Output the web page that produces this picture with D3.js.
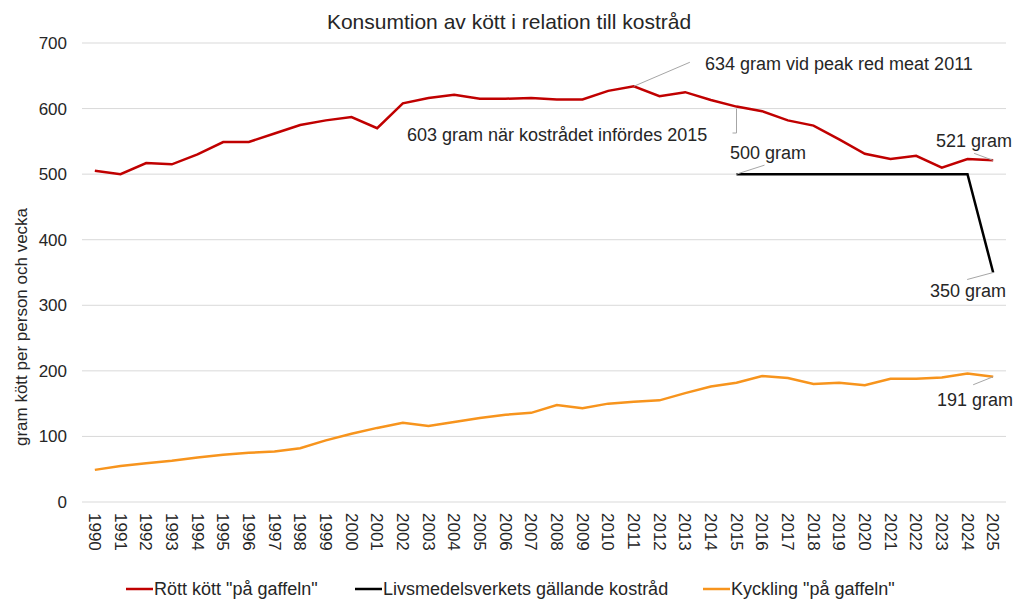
<!DOCTYPE html>
<html>
<head>
<meta charset="utf-8">
<script src="https://cdn.jsdelivr.net/npm/d3@7"></script>
<style>
  body { margin: 0; background: #fff; }
  text { font-family: "Liberation Sans", Arial, sans-serif; fill: #262626; }
</style>
</head>
<body>
<div id="chart"></div>
<script>
// data
const years = d3.range(1990, 2026).map(String)
const redMeat = [505, 500, 517, 515, 530, 549, 549, 562, 575, 582, 587, 570, 608, 616, 621, 615, 615, 616, 614, 614,
    627, 634, 619, 625, 613, 603, 596, 582, 574, 553, 531, 523, 528, 510, 523, 521]
const chicken = [49, 55, 59, 63, 68, 72, 75, 77, 82, 94, 104, 113, 121, 116, 122, 128, 133, 136, 148, 143,
    150, 153, 155, 166, 176, 182, 192, 189, 180, 182, 178, 188, 188, 190, 196, 191]
const adviceYears = ['2015', '2016', '2017', '2018', '2019', '2020', '2021', '2022', '2023', '2024', '2025']
const advice = [500, 500, 500, 500, 500, 500, 500, 500, 500, 500, 350]
const yTicks = [0, 100, 200, 300, 400, 500, 600, 700]
const seriesNames = ['Rött kött "på gaffeln"', 'Livsmedelsverkets gällande kostråd', 'Kyckling "på gaffeln"']

const width = 1013
const height = 599
const margin = { top: 43, right: 7, bottom: 97, left: 82 }

const svg = d3.select('#chart')
    .append('svg')
    .attr('width', width)
    .attr('height', height)

const xScale = d3.scaleBand()
    .domain(years)
    .range([margin.left, width - margin.right])
    .paddingInner(0)
    .paddingOuter(0)

const yScale = d3.scaleLinear()
    .domain([0, 700])
    .range([height - margin.bottom, margin.top])

const xPos = y => xScale(y) + xScale.bandwidth() / 2

// gridlines
svg.append('g')
    .selectAll('line')
    .data(yTicks)
    .enter()
    .append('line')
    .attr('x1', margin.left)
    .attr('x2', width - margin.right)
    .attr('y1', d => yScale(d))
    .attr('y2', d => yScale(d))
    .attr('stroke', '#d9d9d9')
    .attr('stroke-width', 1)

// y axis
const yAxis = svg.append('g')
    .attr('transform', `translate(${margin.left}, 0)`)
    .call(d3.axisLeft(yScale).tickValues(yTicks).tickSize(0).tickPadding(15))
yAxis.select('.domain').remove()
yAxis.selectAll('text').style('font-size', '17px').attr('font-family', null)

// x axis
const xAxis = svg.append('g')
    .attr('transform', `translate(0, ${height - margin.bottom})`)
    .call(d3.axisBottom(xScale).tickSize(0))
xAxis.select('.domain').remove()
xAxis.selectAll('text')
    .style('font-size', '17px')
    .attr('font-family', null)
    .attr('transform', 'rotate(90)')
    .attr('x', 11)
    .attr('y', 0)
    .attr('dy', '0.35em')
    .style('text-anchor', 'start')

// lines
const line = d3.line()
    .x(d => xPos(d[0]))
    .y(d => yScale(d[1]))

svg.append('path')
    .datum(d3.zip(years, redMeat))
    .attr('fill', 'none')
    .attr('stroke', '#c00000')
    .attr('stroke-width', 2.5)
    .attr('d', line)

svg.append('path')
    .datum(d3.zip(adviceYears, advice))
    .attr('fill', 'none')
    .attr('stroke', '#000')
    .attr('stroke-width', 2.5)
    .attr('d', line)

svg.append('path')
    .datum(d3.zip(years, chicken))
    .attr('fill', 'none')
    .attr('stroke', '#f7941d')
    .attr('stroke-width', 2.5)
    .attr('d', line)

// annotations
const leader = (pts) => svg.append('polyline')
    .attr('points', pts.map(p => p.join(',')).join(' '))
    .attr('fill', 'none')
    .attr('stroke', '#a6a6a6')
    .attr('stroke-width', 1)

const label = (x, y, txt) => svg.append('text')
    .attr('x', x)
    .attr('y', y)
    .style('font-size', '18px')
    .text(txt)

const iPeak = years.indexOf('2011')
leader([[xPos('2011'), yScale(redMeat[iPeak])], [xPos('2011') + 56, yScale(redMeat[iPeak]) - 24]])
label(705, 70, '634 gram vid peak red meat 2011')

const i2015 = years.indexOf('2015')
leader([[xPos('2015'), yScale(redMeat[i2015]) + 2], [xPos('2015'), 133], [xPos('2015') - 4, 133]])
label(407, 141, '603 gram när kostrådet infördes 2015')

leader([[xPos('2015'), yScale(advice[0])], [xPos('2015') + 28, yScale(advice[0]) - 9]])
label(730, 159, '500 gram')

const iLast = years.length - 1
leader([[xPos('2025'), yScale(redMeat[iLast])], [xPos('2025') - 19, yScale(redMeat[iLast]) - 7]])
label(936, 147, '521 gram')

leader([[xPos('2025'), yScale(advice[advice.length - 1])], [xPos('2025') - 26, yScale(advice[advice.length - 1]) + 7]])
label(930, 297, '350 gram')

leader([[xPos('2025'), yScale(chicken[iLast])], [xPos('2025') - 20, yScale(chicken[iLast]) + 8]])
label(937, 406, '191 gram')

// title
svg.append('text')
    .attr('x', 509)
    .attr('y', 29)
    .attr('text-anchor', 'middle')
    .style('font-size', '21px')
    .text('Konsumtion av kött i relation till kostråd')

// y axis title
svg.append('text')
    .attr('transform', `translate(27, 327) rotate(-90)`)
    .attr('text-anchor', 'middle')
    .style('font-size', '17px')
    .text('gram kött per person och vecka')

// legend
const legendColors = ['#c00000', '#000', '#f7941d']
const legendX = [126, 355, 703]
const legend = svg.append('g')
seriesNames.forEach((name, i) => {
    legend.append('line')
        .attr('x1', legendX[i])
        .attr('x2', legendX[i] + 27)
        .attr('y1', 589)
        .attr('y2', 589)
        .attr('stroke', legendColors[i])
        .attr('stroke-width', 2.5)
    legend.append('text')
        .attr('x', legendX[i] + 28)
        .attr('y', 595)
        .style('font-size', '18px')
        .text(name)
})
</script>
</body>
</html>
